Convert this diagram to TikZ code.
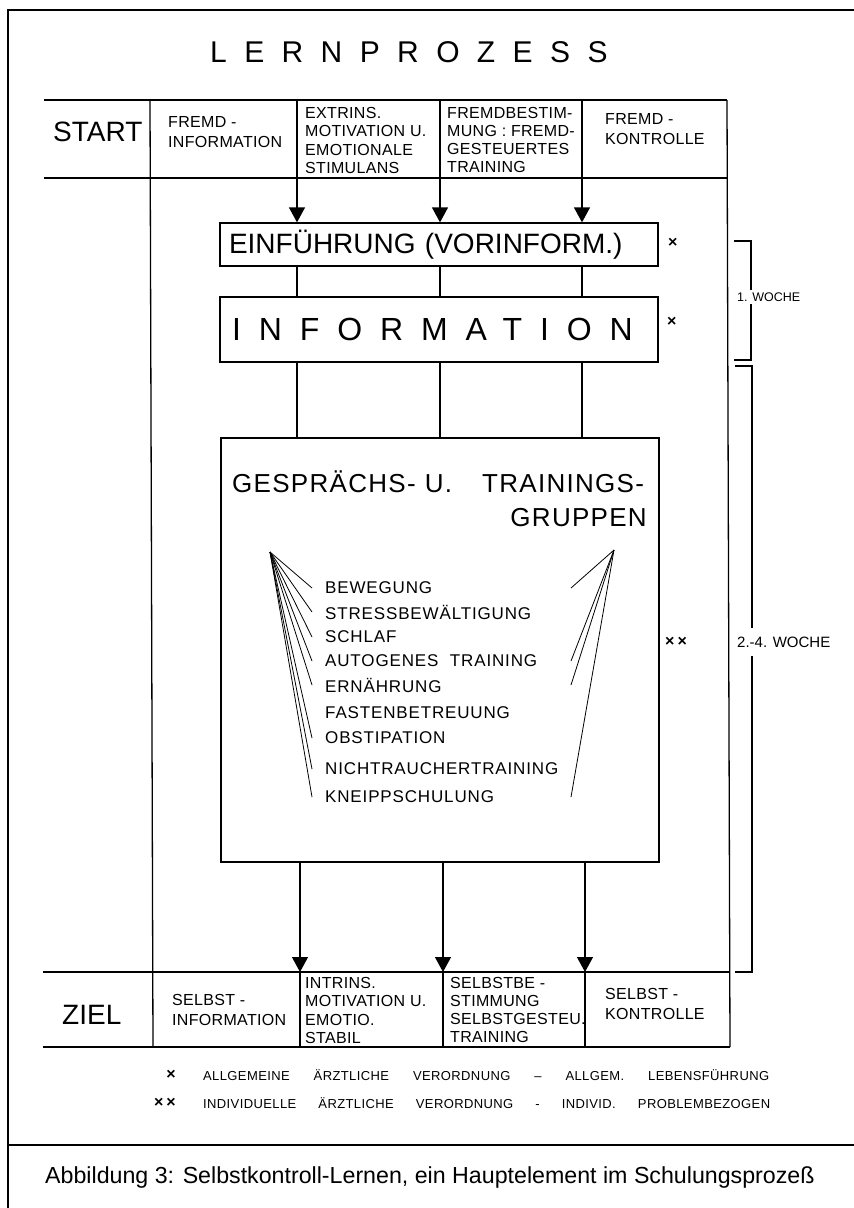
\documentclass[tikz,border=0pt]{standalone}
\usepackage{fontspec}
\setmainfont{Liberation Sans}
\newfontfamily\titlefont[LetterSpace=58]{Liberation Sans}
\newfontfamily\infofont[LetterSpace=56]{Liberation Sans}
\newfontfamily\hdrfont[LetterSpace=2]{Liberation Sans}
\newfontfamily\listfont[LetterSpace=5]{Liberation Sans}
\newfontfamily\grpfont[LetterSpace=5]{Liberation Sans}
\newfontfamily\legfont[LetterSpace=3]{Liberation Sans}
\usetikzlibrary{arrows.meta}
\begin{document}
\begin{tikzpicture}[x=1pt,y=-1pt,
  frame/.style={line width=1.8pt},
  rule/.style={line width=1.3pt},
  fan/.style={line width=0.8pt},
  arr/.style={line width=1.3pt,-{Triangle[length=15pt,width=16pt]}},
  box/.style={draw,line width=1.3pt,inner sep=0pt},
  txt/.style={inner sep=0pt,anchor=west,align=left},
  big/.style={txt,font=\fontsize{28}{30}\selectfont},
  hdr/.style={txt,font=\hdrfont\fontsize{16}{18.3}\selectfont},
  hdrtwo/.style={txt,font=\hdrfont\fontsize{16}{20.5}\selectfont},
  item/.style={txt,font=\listfont\fontsize{17}{19}\selectfont},
  xmark/.style={txt,font=\bfseries\fontsize{16}{17}\selectfont},
  wlabel/.style={txt,fill=white,inner xsep=0pt},
  legend/.style={txt,font=\legfont\fontsize{13}{14}\selectfont}]
\useasboundingbox (0,0) rectangle (854,1208);
\fill[white] (0,0) rectangle (854,1208);

% outer frame
\draw[frame] (854,10) -- (8,10) -- (8,1208);
\draw[frame] (8,1145) -- (854,1145);

% title
\node[txt,font=\titlefont\fontsize{30}{32}\selectfont] (title) at (210,52) {LERNPROZESS};

% top table
\draw[rule] (44,100) -- (727,100);
\draw[rule] (44,178) -- (727,178);
\draw[rule] (297,100) -- (297,178);
\draw[rule] (440,100) -- (440,178);
\draw[rule] (582,100) -- (582,178);
\draw[rule] (150,100) -- (153,1047);
\draw[rule] (727,100) -- (730,1047);

\node[big] (start) at (53,132) {START};
\node[hdrtwo] (h1) at (168,132) {FREMD -\\INFORMATION};
\node[hdr] (h2) at (305,140.5) {EXTRINS.\\MOTIVATION U.\\EMOTIONALE\\STIMULANS};
\node[hdr] (h3) at (447,140) {FREMDBESTIM-\\MUNG : FREMD-\\GESTEUERTES\\TRAINING};
\node[hdrtwo] (h4) at (605,129) {FREMD -\\KONTROLLE};

\coordinate (a1) at (297,178);
\coordinate (a2) at (440,178);
\coordinate (a3) at (582,178);

% boxes
\node[box,minimum width=438pt,minimum height=43pt,text width=420pt,
  font=\fontsize{28}{30}\selectfont] (einf) at (439,244.5) {EINFÜHRUNG (VORINFORM.)};
\node[box,minimum width=438pt,minimum height=65pt,text width=414pt,
  font=\infofont\fontsize{32}{34}\selectfont] (info) at (439,329.5) {INFORMATION};
\node[box,minimum width=438pt,minimum height=424pt] (grp) at (440,650) {};

\node[xmark] (x1) at (668,243) {×};
\node[xmark] (x2) at (667,322) {×};
\node[xmark] (x3) at (665,642) {×\hspace{3pt}×};

\draw[arr] (a1) -- (a1 |- einf.north);
\draw[arr] (a2) -- (a2 |- einf.north);
\draw[arr] (a3) -- (a3 |- einf.north);
\draw[rule] (einf.south -| a1) -- (info.north -| a1);
\draw[rule] (einf.south -| a2) -- (info.north -| a2);
\draw[rule] (einf.south -| a3) -- (info.north -| a3);
\draw[rule] (info.south -| a1) -- (grp.north -| a1);
\draw[rule] (info.south -| a2) -- (grp.north -| a2);
\draw[rule] (info.south -| a3) -- (grp.north -| a3);

% group contents
\node[txt,font=\grpfont\fontsize{26}{28}\selectfont] (g1) at (232,482)
  {GESPRÄCHS-\hspace{9pt}U.\hspace{30pt}TRAININGS-};
\node[txt,anchor=east,font=\grpfont\fontsize{26}{28}\selectfont] (g2) at (647,518) {GRUPPEN};

\node[item] (l1) at (325,588) {BEWEGUNG};
\node[item] (l2) at (325,612) {STRESSBEWÄLTIGUNG};
\node[item] (l3) at (325,637) {SCHLAF};
\node[item] (l4) at (325,661) {AUTOGENES\hspace{6pt} TRAINING};
\node[item] (l5) at (325,685) {ERNÄHRUNG};
\node[item] (l6) at (325,713) {FASTENBETREUUNG};
\node[item] (l7) at (325,738) {OBSTIPATION};
\node[item] (l8) at (325,769) {NICHTRAUCHERTRAINING};
\node[item] (l9) at (325,797) {KNEIPPSCHULUNG};

\coordinate (apl) at (270,552);
\coordinate (apr) at (614,550);
\coordinate (lx) at (312,0);
\coordinate (rx) at (571,0);
\foreach \n in {l1,l2,l3,l4,l5,l7,l8,l9}
  \draw[fan] (apl) -- (\n.west -| lx);
\foreach \n in {l1,l4,l5,l9}
  \draw[fan] (apr) -- (\n.west -| rx);

% bottom table
\coordinate (b1) at (300,972);
\coordinate (b2) at (443,972);
\coordinate (b3) at (585,972);
\draw[arr] (grp.south -| b1) -- (b1);
\draw[arr] (grp.south -| b2) -- (b2);
\draw[arr] (grp.south -| b3) -- (b3);
\draw[rule] (43,972) -- (730,972);
\draw[rule] (43,1047) -- (730,1047);
\draw[rule] (300,972) -- (300,1047);
\draw[rule] (443,972) -- (443,1047);
\draw[rule] (585,972) -- (585,1047);

\node[big] (ziel) at (62,1015) {ZIEL};
\node[hdrtwo] (z1) at (172,1010) {SELBST -\\INFORMATION};
\node[hdr] (z2) at (305,1010.5) {INTRINS.\\MOTIVATION U.\\EMOTIO.\\STABIL};
\node[hdr] (z3) at (450,1010) {SELBSTBE -\\STIMMUNG\\SELBSTGESTEU.\\TRAINING};
\node[hdrtwo] (z4) at (605,1004) {SELBST -\\KONTROLLE};

% week brackets
\draw[rule] (734,241) -- (751,241) -- (751,360) -- (734,360);
\node[wlabel,inner ysep=3pt,font=\fontsize{12.5}{14}\selectfont] (w1) at (737,297) {1. WOCHE};
\draw[rule] (735,366) -- (752,366) -- (752,972) -- (735,972);
\node[wlabel,inner ysep=9pt,font=\fontsize{15}{17}\selectfont] (w2) at (737,642) {2.-4. WOCHE};

% legend
\node[xmark,anchor=east] (m1) at (176,1075) {×};
\node[legend] (leg1) at (203,1075)
  {\makebox[566pt][s]{ALLGEMEINE ÄRZTLICHE VERORDNUNG – ALLGEM. LEBENSFÜHRUNG}};
\node[xmark,anchor=east] (m2) at (176,1103) {×\hspace{3pt}×};
\node[legend] (leg2) at (203,1103)
  {\makebox[567pt][s]{INDIVIDUELLE ÄRZTLICHE VERORDNUNG - INDIVID. PROBLEMBEZOGEN}};

% caption
\node[txt,font=\fontsize{23.2}{26}\selectfont] (cap) at (45,1177)
  {Abbildung 3: Selbstkontroll-Lernen, ein Hauptelement im Schulungsprozeß};
\end{tikzpicture}
\end{document}
